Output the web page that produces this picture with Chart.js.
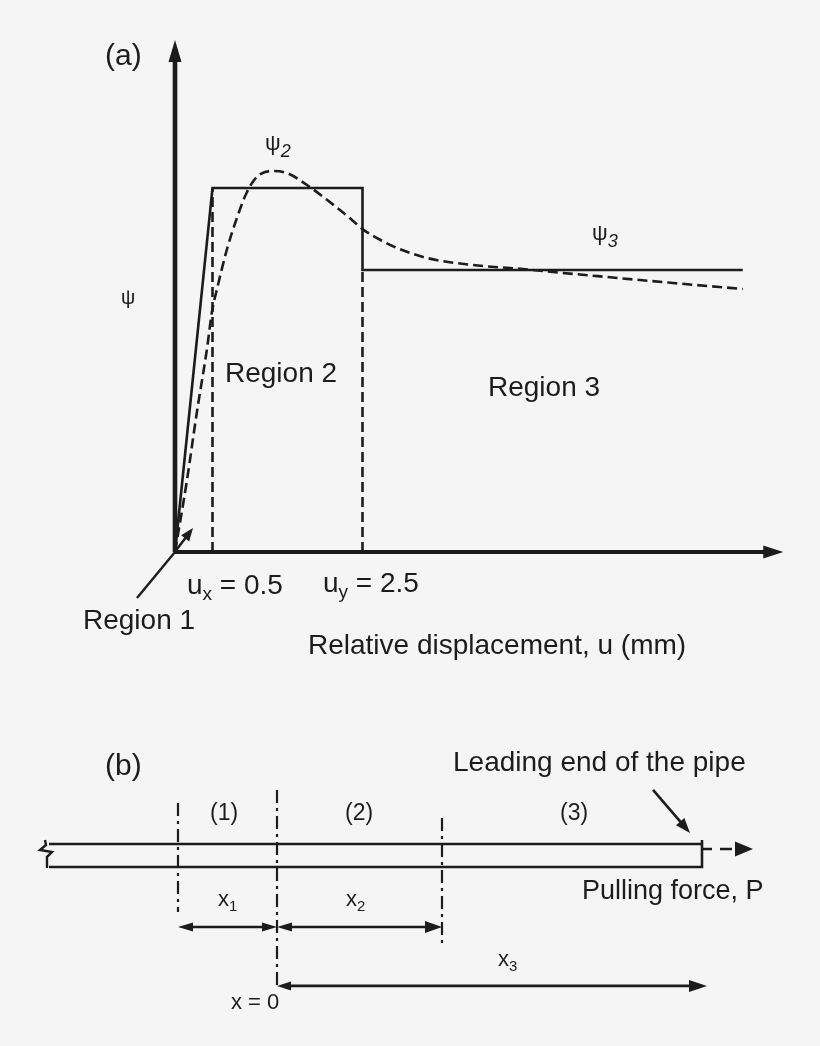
<!DOCTYPE html>
<html>
<head>
<meta charset="utf-8">
<script src="https://cdn.jsdelivr.net/npm/chart.js@4.4.1/dist/chart.umd.min.js"></script>
<style>
  html, body { margin: 0; padding: 0; background: #f5f5f5; }
  #wrap { position: relative; width: 820px; height: 1046px; overflow: hidden;
          font-family: "Liberation Sans", Arial, Helvetica, sans-serif; color: #1c1c1c; }
  canvas { position: absolute; left: 0; }
  #chartA { top: 0; width: 820px; height: 680px; }
  #chartB { top: 680px; width: 820px; height: 366px; }
  .lbl { position: absolute; white-space: nowrap; line-height: 1; }
  .sub { font-size: 0.68em; position: relative; top: 0.32em; }
  .isub { font-style: italic; font-size: 0.82em; position: relative; top: 0.38em; }
</style>
</head>
<body>
<div id="wrap">
  <canvas id="chartA" width="820" height="680"></canvas>
  <canvas id="chartB" width="820" height="366"></canvas>

  <!-- (a) labels -->
  <div class="lbl" style="left:105px;top:40px;font-size:30px">(a)</div>
  <div class="lbl" style="left:265px;top:132px;font-size:22px">ψ<span class="isub">2</span></div>
  <div class="lbl" style="left:592px;top:222px;font-size:22px">ψ<span class="isub">3</span></div>
  <div class="lbl" style="left:121px;top:287px;font-size:20px">ψ</div>
  <div class="lbl" style="left:225px;top:359px;font-size:28px">Region 2</div>
  <div class="lbl" style="left:488px;top:373px;font-size:28px">Region 3</div>
  <div class="lbl" style="left:187px;top:571px;font-size:28px">u<span class="sub">x</span> = 0.5</div>
  <div class="lbl" style="left:323px;top:569px;font-size:28px">u<span class="sub">y</span> = 2.5</div>
  <div class="lbl" style="left:83px;top:606px;font-size:28px">Region 1</div>
  <div class="lbl" style="left:308px;top:631px;font-size:28px">Relative displacement, u (mm)</div>

  <!-- (b) labels -->
  <div class="lbl" style="left:105px;top:750px;font-size:30px">(b)</div>
  <div class="lbl" style="left:453px;top:748px;font-size:28px">Leading end of the pipe</div>
  <div class="lbl" style="left:210px;top:801px;font-size:23px">(1)</div>
  <div class="lbl" style="left:345px;top:801px;font-size:23px">(2)</div>
  <div class="lbl" style="left:560px;top:801px;font-size:23px">(3)</div>
  <div class="lbl" style="left:582px;top:877px;font-size:27px">Pulling force, P</div>
  <div class="lbl" style="left:218px;top:888px;font-size:22px">x<span class="sub">1</span></div>
  <div class="lbl" style="left:346px;top:888px;font-size:22px">x<span class="sub">2</span></div>
  <div class="lbl" style="left:498px;top:948px;font-size:22px">x<span class="sub">3</span></div>
  <div class="lbl" style="left:231px;top:991px;font-size:22px">x = 0</div>
</div>

<script>
// ================= DATA =================
// (a) shear resistance ψ versus relative displacement u (mm)
const modelU   = [0, 0.5, 2.5, 2.5, 7.57];          // idealised (solid) model
const modelPsi = [0, 0.91, 0.91, 0.705, 0.705];
const curveU   = [0, 0.16, 0.29, 0.43, 0.49, 0.57, 0.69, 0.83, 0.96, 1.09, 1.29, 1.49,
                  1.76, 2.03, 2.33, 2.51, 2.77, 2.96, 3.36, 3.97, 4.64, 5.04, 5.76, 6.64, 7.57];
const curvePsi = [0, 0.18, 0.3475, 0.5125, 0.5975, 0.665, 0.755, 0.8375, 0.90, 0.9375, 0.9525, 0.9475,
                  0.9175, 0.88, 0.835, 0.806, 0.777, 0.76, 0.735, 0.7175, 0.7075, 0.70, 0.6875, 0.6725, 0.6575];
const regionLimitsU = [0.5, 2.5];   // u_x, u_y
const regionPsi     = [0.91, 0.705]; // ψ2, ψ3 levels
const axisEndU   = 8.11;
const axisEndPsi = 1.28;
const region1LeaderU   = [-0.507, 0];
const region1LeaderPsi = [-0.115, 0];
const region1ArrowU    = [0.01, 0.24];
const region1ArrowPsi  = [0.003, 0.06];

// (b) pipe sections along x (arbitrary length units), pipe depth in diameters
const sectionBounds = [-0.99, 0, 1.65];   // start of (1), x = 0, end of (2)
const pipeStartX = -2.30;
const pipeEndX   = 4.25;
const pullTipX   = 4.76;
const x3EndX     = 4.30;
const pipeTopY   = 1, pipeBotY = 0;
const pullY      = 0.78;
const boundTopY  = [2.78, 3.35, 2.13];
const boundBotY  = [-1.96, -5.17, -3.39];
const dimY12 = -2.61, dimY3 = -5.17;
const leaderX = [3.76, 4.13], leaderY = [3.35, 1.48];
const breakX = [-2.32, -2.31, -2.37, -2.25, -2.30, -2.30];
const breakY = [1.17, 0.96, 0.74, 0.65, 0.44, -0.04];

// ================= HELPERS =================
const INK = '#1c1c1c';
const pts = (xs, ys) => xs.map((x, i) => ({ x, y: ys[i] }));

function arrowEnds(ds, els) {
  const out = [];
  const n = els.length;
  if (!ds.arrows || n < 2) return out;
  const mk = (tip, from, spec) => {
    const dx = tip.x - from.x, dy = tip.y - from.y, L = Math.hypot(dx, dy) || 1;
    out.push({ tx: tip.x, ty: tip.y, ux: dx / L, uy: dy / L, len: spec.len, wid: spec.wid });
  };
  if (ds.arrows.end) mk(els[n - 1], els[n - 2], ds.arrows.end);
  if (ds.arrows.start) mk(els[0], els[1], ds.arrows.start);
  return out;
}

const arrowPlugin = {
  id: 'arrowheads',
  beforeDatasetDraw(chart, args) {
    const ds = chart.data.datasets[args.index];
    const heads = arrowEnds(ds, args.meta.data);
    if (!heads.length) return;
    const ctx = chart.ctx, lw = ds.borderWidth || 2;
    ctx.save();
    ctx.beginPath();
    ctx.rect(0, 0, chart.width, chart.height);
    heads.forEach(h => {
      const d0 = (lw / 2) * h.len / (h.wid / 2) + 1.5;
      const nx = -h.uy, ny = h.ux, hw = lw / 2 + 1;
      const fx = h.tx + h.ux * 2, fy = h.ty + h.uy * 2;
      const bx = h.tx - h.ux * d0, by = h.ty - h.uy * d0;
      ctx.moveTo(fx + nx * hw, fy + ny * hw);
      ctx.lineTo(bx + nx * hw, by + ny * hw);
      ctx.lineTo(bx - nx * hw, by - ny * hw);
      ctx.lineTo(fx - nx * hw, fy - ny * hw);
      ctx.closePath();
    });
    ctx.clip('evenodd');
  },
  afterDatasetDraw(chart, args) {
    const ds = chart.data.datasets[args.index];
    const heads = arrowEnds(ds, args.meta.data);
    if (!heads.length) return;
    const ctx = chart.ctx;
    ctx.restore();
    ctx.save();
    ctx.fillStyle = ds.borderColor || INK;
    heads.forEach(h => {
      const nx = -h.uy, ny = h.ux;
      const bx = h.tx - h.ux * h.len, by = h.ty - h.uy * h.len;
      ctx.beginPath();
      ctx.moveTo(h.tx, h.ty);
      ctx.lineTo(bx + nx * h.wid / 2, by + ny * h.wid / 2);
      ctx.lineTo(bx - nx * h.wid / 2, by - ny * h.wid / 2);
      ctx.closePath();
      ctx.fill();
    });
    ctx.restore();
  }
};

function options(xr, yr, pad) {
  return {
    responsive: false, animation: false, events: [],
    layout: { padding: pad },
    plugins: { legend: { display: false }, tooltip: { enabled: false }, title: { display: false } },
    scales: {
      x: { type: 'linear', min: xr[0], max: xr[1], display: false },
      y: { type: 'linear', min: yr[0], max: yr[1], display: false }
    },
    elements: {
      point: { radius: 0, hoverRadius: 0 },
      line: { borderColor: INK, borderWidth: 2.6, tension: 0, fill: false, borderCapStyle: 'butt' }
    }
  };
}

function line(data, extra) {
  return Object.assign({ data, borderColor: INK, borderWidth: 2.6, pointRadius: 0, fill: false }, extra || {});
}

// ================= CHART (a) =================
new Chart(document.getElementById('chartA'), {
  type: 'line',
  data: {
    datasets: [
      // axes
      line(pts([0, 0], [0, axisEndPsi]), { borderWidth: 4.6, arrows: { end: { len: 22, wid: 13 } } }),
      line(pts([0, axisEndU], [0, 0]), { borderWidth: 4.2, arrows: { end: { len: 20, wid: 13 } } }),
      // region limits (dashed verticals)
      line(pts([regionLimitsU[0], regionLimitsU[0]], [0, regionPsi[0]]), { borderDash: [10, 5] }),
      line(pts([regionLimitsU[1], regionLimitsU[1]], [0, regionPsi[1]]), { borderDash: [10, 5] }),
      // idealised model
      line(pts(modelU, modelPsi), { borderJoinStyle: 'miter' }),
      // measured-type curve
      line(pts(curveU, curvePsi), { borderDash: [10, 5], cubicInterpolationMode: 'monotone' }),
      // Region 1 leader and arrow
      line(pts(region1LeaderU, region1LeaderPsi), { borderWidth: 2.4 }),
      line(pts(region1ArrowU, region1ArrowPsi), { borderWidth: 2.4, arrows: { end: { len: 13, wid: 10 } } })
    ]
  },
  options: options([-1.4, 8.6], [-0.3, 1.35], { left: 70, right: 0, top: 12, bottom: 8 }),
  plugins: [arrowPlugin]
});

// ================= CHART (b) =================
const dashDot = [13, 5, 3, 5];
new Chart(document.getElementById('chartB'), {
  type: 'line',
  data: {
    datasets: [
      // pipe
      line(pts([pipeStartX + 0.02, pipeEndX], [pipeTopY, pipeTopY])),
      line(pts([pipeStartX + 0.02, pipeEndX, pipeEndX], [pipeBotY, pipeBotY, 1.17]), { borderJoinStyle: 'miter' }),
      line(pts(breakX, breakY), { borderWidth: 2.4 }),
      // pulling force (dashed arrow)
      line(pts([pipeEndX, pullTipX], [pullY, pullY]), { borderDash: [10, 8, 12, 40], arrows: { end: { len: 18, wid: 15 } } }),
      // leading end leader
      line(pts(leaderX, leaderY), { borderWidth: 2.6, arrows: { end: { len: 15, wid: 11 } } }),
      // section boundaries
      line(pts([sectionBounds[0], sectionBounds[0]], [boundTopY[0], boundBotY[0]]), { borderWidth: 2.2, borderDash: dashDot }),
      line(pts([sectionBounds[1], sectionBounds[1]], [boundTopY[1], boundBotY[1]]), { borderWidth: 2.2, borderDash: dashDot }),
      line(pts([sectionBounds[2], sectionBounds[2]], [boundTopY[2], boundBotY[2]]), { borderWidth: 2.2, borderDash: dashDot }),
      // dimension arrows
      line(pts([sectionBounds[0], sectionBounds[1]], [dimY12, dimY12]), { arrows: { start: { len: 15, wid: 9 }, end: { len: 15, wid: 9 } } }),
      line(pts([sectionBounds[1], sectionBounds[2]], [dimY12, dimY12]), { arrows: { start: { len: 15, wid: 9 }, end: { len: 17, wid: 12 } } }),
      line(pts([sectionBounds[1], x3EndX], [dimY3, dimY3]), { arrows: { start: { len: 14, wid: 9 }, end: { len: 18, wid: 12 } } })
    ]
  },
  options: options([-2.7, 5.43], [-7.5, 8], { left: 7, right: 0, top: 3, bottom: 6.5 }),
  plugins: [arrowPlugin]
});
</script>
</body>
</html>
